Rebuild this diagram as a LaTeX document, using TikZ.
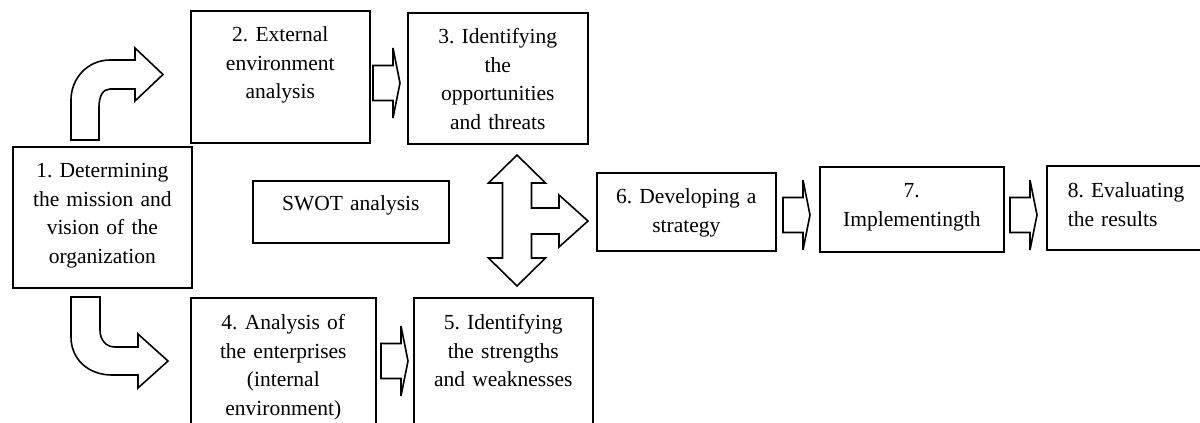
\documentclass[tikz,border=0pt]{standalone}
\usepackage{fontspec}
\setmainfont{Liberation Serif}
\usepackage{tikz}
\usetikzlibrary{scopes}

\begin{document}
\begin{tikzpicture}[x=1pt, y=-1pt, line width=1.6pt,
    stage/.style={draw, inner sep=0pt, align=center, text height=31pt,
      font=\fontsize{21.5}{28.5}\selectfont\frenchspacing, anchor=north west}]

    \def\steparrow{
      \draw[sharp corners] (0,-17.5) -- (20,-17.5) -- (20,-35) -- (27,0) -- (20,35) -- (20,17.5) -- (0,17.5) -- cycle;
    }

    \def\bendup{
      \draw (0,0) -- (0,-40) .. controls (0,-62) and (17,-80) .. (39,-80) -- (64,-80) -- (64,-92)
        -- (92,-65.5) -- (64,-39) -- (64,-51) -- (39,-51) .. controls (32,-51) and (28,-44) .. (28,-33) -- (28,0) -- cycle;
    }

    \def\benddown{
      \draw (0,0) -- (0,40) .. controls (0,62) and (17,78) .. (41,78) -- (67,78) -- (67,91)
        -- (97,64) -- (67,37) -- (67,50) -- (44,50) .. controls (35,50) and (29,43) .. (29,33) -- (29,0) -- cycle;
    }

    \def\splitarrow{
      \draw (0,-66) -- (28.5,-38) -- (14.5,-38) -- (14.5,-13) -- (42,-13) -- (42,-26) -- (71,0)
        -- (42,26) -- (42,13) -- (14.5,13) -- (14.5,37) -- (28.5,37) -- (0,65) -- (-28.5,37)
        -- (-14.5,37) -- (-14.5,-38) -- (-28.5,-38) -- cycle;
    }

    \useasboundingbox (0,0) rectangle (1200,423);

    \node[stage, text width=179pt, text depth=110pt] (mission) at (12,146)
      {1. Determining\\the mission and\\vision of the\\organization};
    \node[stage, text width=179pt, text depth=101pt] (external) at (190,10)
      {2. External\\environment\\analysis};
    \node[stage, text width=180pt, text depth=100pt] (opport) at (407,12)
      {3. Identifying\\the\\opportunities\\and threats};
    \node[stage, text width=196pt, text height=30pt, text depth=32pt] (swot) at (252,180)
      {SWOT analysis};
    \node[stage, text width=185pt, text height=32pt, text depth=111pt] (internal) at (190,297)
      {4. Analysis of\\the enterprises\\(internal\\environment)};
    \node[stage, text width=179pt, text height=32pt, text depth=111pt] (strength) at (413,297)
      {5. Identifying\\the strengths\\and weaknesses};
    \node[stage, text width=179pt, text depth=47pt] (strategy) at (596,172)
      {6. Developing a\\strategy};
    \node[stage, text width=184pt, text depth=54pt] (implement) at (819,166)
      {7.\\Implementingth};
    \node[stage, align=left, inner xsep=21pt, text width=170pt, text height=32pt, text depth=52pt] (results) at (1046,165)
      {8. Evaluating\\the results};

    %\draw[->] (mission) -- (external);
    \begin{scope}[ shift = ({ 71 , 140 }) ]  \bendup      \end{scope}
    \begin{scope}[ shift = ({ 71 , 297 }) ]  \benddown    \end{scope}
    \begin{scope}[ shift = ({ 373 , 83 }) ]  \steparrow   \end{scope}
    \begin{scope}[ shift = ({ 381 , 361 }) ] \steparrow   \end{scope}
    \begin{scope}[ shift = ({ 517 , 221 }) ] \splitarrow  \end{scope}
    \begin{scope}[ shift = ({ 783 , 215 }) ] \steparrow   \end{scope}
    \begin{scope}[ shift = ({ 1010 , 215 }) ] \steparrow  \end{scope}

\end{tikzpicture}
\end{document}
